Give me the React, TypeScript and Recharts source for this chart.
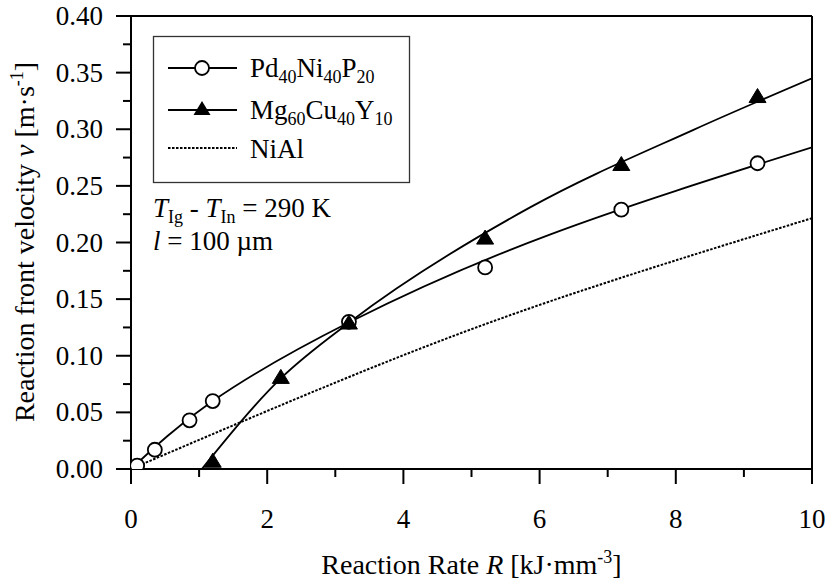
import React from "react";
import {
  ComposedChart,
  Line,
  Scatter,
  XAxis,
  YAxis,
  Legend,
  ReferenceLine,
} from "recharts";

// measured points
const pdR = [0.03, 0.09, 0.35, 0.86, 1.2, 3.2, 5.2, 7.2, 9.2];
const pdV = [0.0, 0.003, 0.017, 0.043, 0.06, 0.13, 0.178, 0.229, 0.27];
const mgR = [1.2, 2.2, 3.2, 5.2, 7.2, 9.2];
const mgV = [0.006, 0.08, 0.128, 0.203, 0.268, 0.328];

// fit curves
const pdFitR = [0, 1.2, 3.22, 6.15, 10];
const pdFitV = [0, 0.06, 0.13, 0.207, 0.284];
const mgFitR = [1.04, 2.2, 3.22, 5.86, 8.26, 10];
const mgFitV = [0, 0.08, 0.13, 0.231, 0.2995, 0.345];
const niFitR = [0, 3.07, 6.15, 10];
const niFitV = [0, 0.078, 0.148, 0.2215];

const xTicks = [0, 1, 2, 3, 4, 5, 6, 7, 8, 9, 10];
const yTicks = [
  0, 0.025, 0.05, 0.075, 0.1, 0.125, 0.15, 0.175, 0.2, 0.225, 0.25, 0.275, 0.3,
  0.325, 0.35, 0.375, 0.4,
];

const zip = (xs: number[], ys: number[]) => xs.map((x, i) => ({ x, v: ys[i] }));
const pdPts = zip(pdR, pdV);
const mgPts = zip(mgR, mgV);
const pdFit = zip(pdFitR, pdFitV);
const mgFit = zip(mgFitR, mgFitV);
const niFit = zip(niFitR, niFitV);

const FONT = "Liberation Serif";
const FS = 27;
const TITLE_FS = 28;
const txt = { fontFamily: FONT };

const XTick = (props: any) => {
  const { x, y, payload } = props;
  const major = payload.value % 2 === 0;
  return (
    <g>
      <line x1={x} x2={x} y1={y} y2={y + (major ? 15 : 8)} stroke="#000" strokeWidth={2} />
      {major && (
        <text x={x} y={y + 59} textAnchor="middle" style={txt} fontSize={FS} fill="#000">
          {payload.value}
        </text>
      )}
    </g>
  );
};

const YTick = (props: any) => {
  const { x, y, payload } = props;
  const major = Math.round(payload.value * 1000) % 50 === 0;
  return (
    <g>
      <line x1={x} x2={x - (major ? 15 : 8)} y1={y} y2={y} stroke="#000" strokeWidth={2} />
      {major && (
        <text x={x - 28} y={y + 9} textAnchor="end" style={txt} fontSize={FS} fill="#000">
          {payload.value.toFixed(2)}
        </text>
      )}
    </g>
  );
};

const Circle = (props: any) => (
  <circle cx={props.cx} cy={props.cy} r={7} fill="#fff" stroke="#000" strokeWidth={1.8} />
);

const Triangle = (props: any) => {
  const { cx, cy } = props;
  return (
    <polygon
      points={`${cx - 8.5},${cy + 5} ${cx + 8.5},${cy + 5} ${cx},${cy - 9}`}
      fill="#000"
      stroke="#000"
      strokeWidth={1}
    />
  );
};

const Sub = ({ children }: { children: React.ReactNode }) => (
  <tspan fontSize={18} dy={6}>
    {children}
  </tspan>
);
const Up = ({ children }: { children: React.ReactNode }) => (
  <tspan dy={-6}>{children}</tspan>
);

const LegendBox = () => (
  <svg width={260} height={230} style={{ overflow: "visible" }}>
    <rect x={0.5} y={0.5} width={256} height={146} fill="#fff" stroke="#333" strokeWidth={1.3} />
    <line x1={15} x2={84} y1={32} y2={32} stroke="#000" strokeWidth={1.8} />
    <circle cx={49} cy={32} r={7} fill="#fff" stroke="#000" strokeWidth={1.8} />
    <text x={97} y={41} style={txt} fontSize={FS}>
      Pd<Sub>40</Sub>
      <Up>Ni</Up>
      <Sub>40</Sub>
      <Up>P</Up>
      <Sub>20</Sub>
    </text>
    <line x1={15} x2={84} y1={74} y2={74} stroke="#000" strokeWidth={1.8} />
    <polygon points="40.5,79 57.5,79 49,65" fill="#000" />
    <text x={97} y={83} style={txt} fontSize={FS}>
      Mg<Sub>60</Sub>
      <Up>Cu</Up>
      <Sub>40</Sub>
      <Up>Y</Up>
      <Sub>10</Sub>
    </text>
    <line x1={15} x2={84} y1={112} y2={112} stroke="#000" strokeWidth={2} strokeDasharray="2.5 1.5" />
    <text x={97} y={122} style={txt} fontSize={FS}>
      NiAl
    </text>
    <text x={0} y={181} style={txt} fontSize={FS}>
      <tspan fontStyle="italic">T</tspan>
      <Sub>Ig</Sub>
      <Up> - </Up>
      <tspan fontStyle="italic">T</tspan>
      <Sub>In</Sub>
      <Up> = 290 K</Up>
    </text>
    <text x={0} y={214} style={txt} fontSize={FS}>
      <tspan fontStyle="italic">l</tspan> = 100 µm
    </text>
  </svg>
);

export default function App() {
  return (
    <div style={{ position: "absolute", left: 0, top: 0, width: 828, height: 581, background: "#fff" }}>
      <ComposedChart width={828} height={581} margin={{ top: 16, right: 16, bottom: 0, left: 0 }}>
        <XAxis
          type="number"
          dataKey="x"
          domain={[0, 10]}
          ticks={xTicks}
          allowDataOverflow
          height={112}
          tickSize={0}
          tickMargin={0}
          tickLine={false}
          axisLine={{ stroke: "#000", strokeWidth: 2 }}
          tick={<XTick />}
          label={{
            content: (p: any) => (
              <text
                x={p.viewBox.x + p.viewBox.width / 2}
                y={574}
                textAnchor="middle"
                style={txt}
                fontSize={TITLE_FS}
              >
                Reaction Rate <tspan fontStyle="italic">R</tspan> [kJ·mm
                <tspan fontSize={18} dy={-11}>-3</tspan>
                <tspan dy={11}>]</tspan>
              </text>
            ),
          }}
        />
        <YAxis
          type="number"
          domain={[0, 0.4]}
          ticks={yTicks}
          allowDataOverflow
          width={131}
          tickSize={0}
          tickMargin={0}
          tickLine={false}
          axisLine={{ stroke: "#000", strokeWidth: 2 }}
          tick={<YTick />}
          label={{
            content: () => (
              <text
                x={34}
                y={242}
                transform="rotate(-90, 34, 242)"
                textAnchor="middle"
                style={txt}
                fontSize={TITLE_FS}
              >
                Reaction front velocity <tspan fontStyle="italic">v</tspan> [m·s
                <tspan fontSize={18} dy={-11}>-1</tspan>
                <tspan dy={11}>]</tspan>
              </text>
            ),
          }}
        />
        <ReferenceLine y={0.4} stroke="#000" strokeWidth={2} />
        <ReferenceLine x={10} stroke="#000" strokeWidth={2} />
        <Line data={pdFit} dataKey="v" type="natural" dot={false} stroke="#000" strokeWidth={1.8} isAnimationActive={false} legendType="none" />
        <Line data={mgFit} dataKey="v" type="monotone" dot={false} stroke="#000" strokeWidth={1.8} isAnimationActive={false} legendType="none" />
        <Line data={niFit} dataKey="v" type="natural" dot={false} stroke="#000" strokeWidth={2} strokeDasharray="2.5 1.5" isAnimationActive={false} legendType="none" />
        <Scatter data={pdPts} dataKey="v" shape={<Circle />} isAnimationActive={false} />
        <Scatter data={mgPts} dataKey="v" shape={<Triangle />} isAnimationActive={false} />
        <Legend
          layout="vertical"
          align="center"
          verticalAlign="middle"
          content={() => <LegendBox />}
          wrapperStyle={{ position: "absolute", left: 153, top: 36, width: 260, height: 230 }}
        />
      </ComposedChart>
    </div>
  );
}
